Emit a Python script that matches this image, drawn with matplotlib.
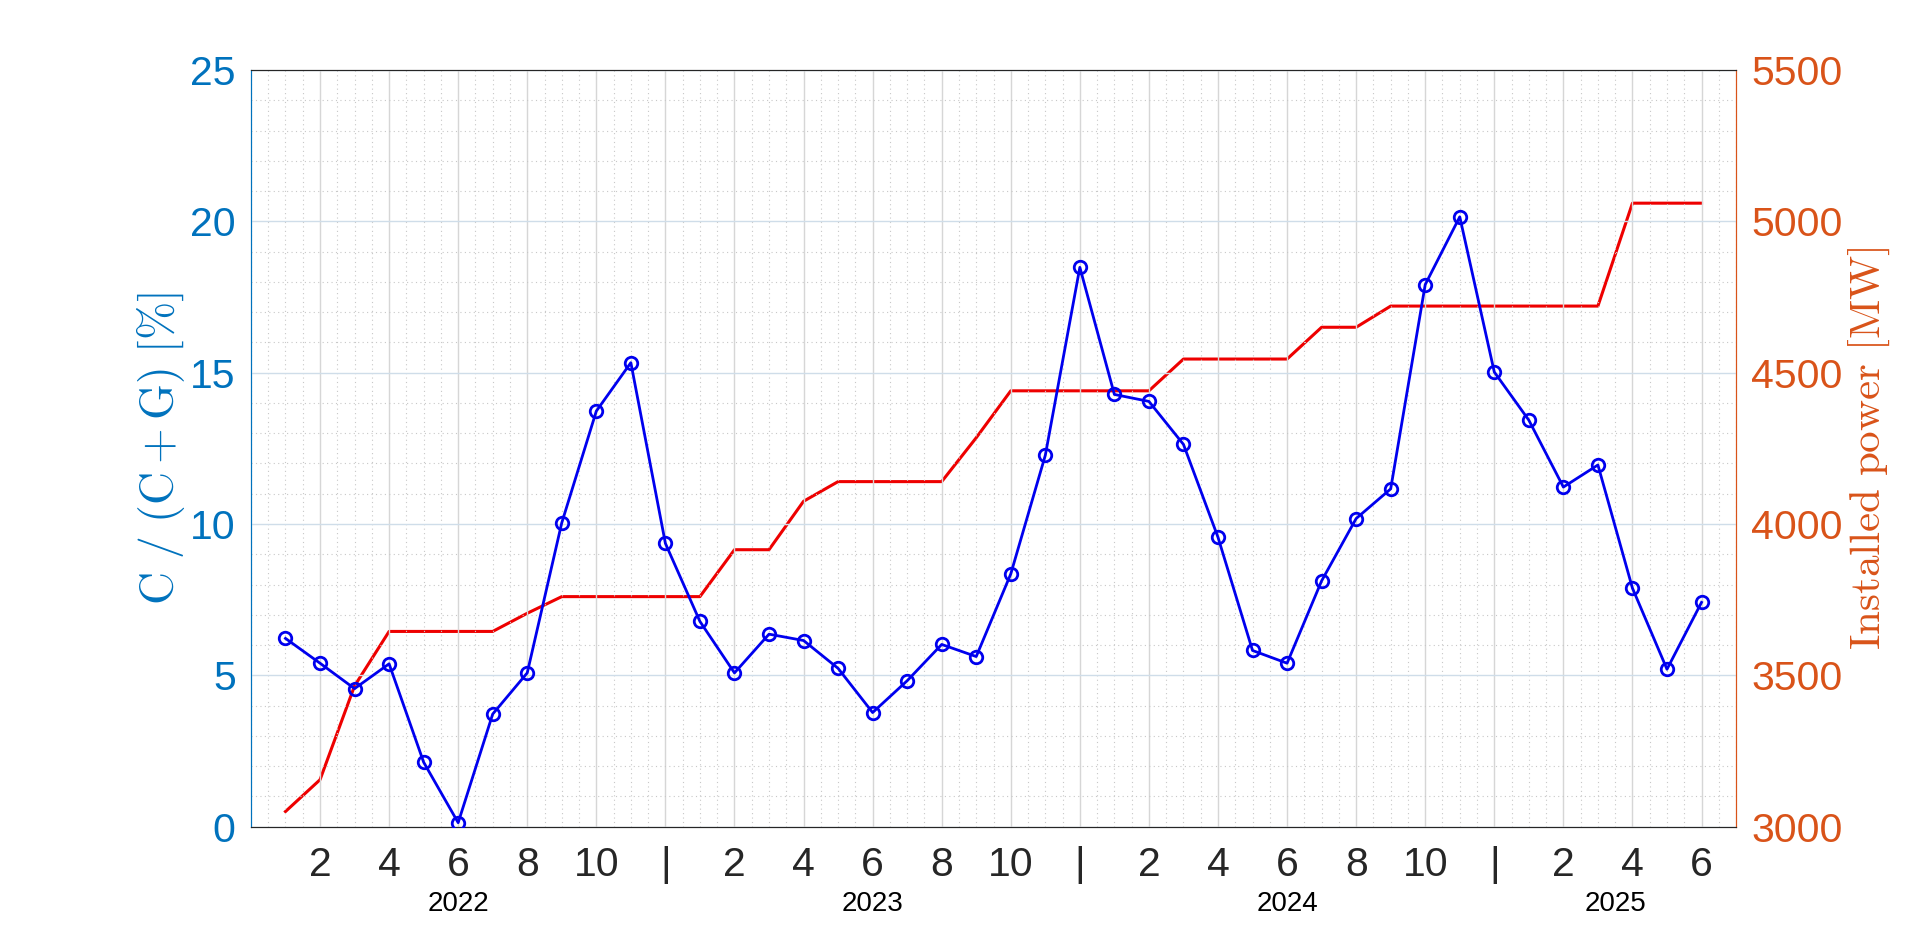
import matplotlib
matplotlib.use("Agg")
import matplotlib.pyplot as plt
import matplotlib.transforms as mtransforms
from matplotlib.ticker import MultipleLocator, FixedLocator

plt.rcParams['font.family'] = ['Liberation Sans', 'DejaVu Sans']
plt.rcParams['mathtext.fontset'] = 'cm'

# ---- data ----
months = list(range(1, 43))  # Jan 2022 .. Jun 2025
share = [6.22, 5.40, 4.56, 5.38, 2.13, 0.13, 3.72, 5.08, 10.04, 13.73, 15.33, 9.36,
         6.78, 5.08, 6.36, 6.15, 5.23, 3.77, 4.82, 6.02, 5.62, 8.35, 12.27, 18.48,
         14.28, 14.05, 12.63, 9.56, 5.82, 5.40, 8.12, 10.18, 11.16, 17.91, 20.15, 15.02,
         13.43, 11.22, 11.95, 7.88, 5.20, 7.41]
power = [3050, 3155, 3465, 3645, 3645, 3645, 3645, 3705, 3760, 3760, 3760, 3760,
         3760, 3915, 3915, 4075, 4140, 4140, 4140, 4140, 4285, 4440, 4440, 4440,
         4440, 4440, 4545, 4545, 4545, 4545, 4650, 4650, 4720, 4720, 4720, 4720,
         4720, 4720, 4720, 5060, 5060, 5060]
tick_pos = list(range(2, 43, 2))
tick_labels = ['2', '4', '6', '8', '10', '|'] * 3 + ['2', '4', '6']
years = ['2022', '2023', '2024', '2025']
year_pos = [6, 18, 30, 39.5]

BLUE_AX = '#0072BD'
ORANGE_AX = '#D95319'

fig = plt.figure(figsize=(19.2, 9.26), dpi=100)
ax = fig.add_axes([0.1307, 0.1073, 0.7735, 0.8171])
ax2 = ax.twinx()

ax.set_xlim(0, 43)
ax.set_ylim(0, 25)
ax2.set_ylim(3000, 5500)

# grid
ax.xaxis.set_major_locator(FixedLocator(tick_pos))
ax.xaxis.set_minor_locator(MultipleLocator(0.5))
ax.yaxis.set_major_locator(MultipleLocator(5))
ax.yaxis.set_minor_locator(MultipleLocator(1))
ax2.yaxis.set_major_locator(MultipleLocator(500))
ax.grid(True, which='major', axis='x', color='#d6d6d6', lw=1.0)
ax.grid(True, which='major', axis='y', color='#cfdde9', lw=1.0)
ax.grid(True, which='minor', color='#c8c8c8', lw=0.8, linestyle=(0, (1, 3)))
ax.set_axisbelow(True)

ax.set_xticks(tick_pos)
ax.set_xticklabels(tick_labels)
ax.tick_params(axis='x', which='both', length=0, labelsize=29.5, colors='#262626', pad=14)
ax.tick_params(axis='y', which='both', length=0, labelsize=29.5, colors=BLUE_AX, pad=11)
ax2.tick_params(axis='y', which='both', length=0, labelsize=29.5, colors=ORANGE_AX, pad=11)

for a in (ax, ax2):
    a.spines['top'].set_color('#262626')
    a.spines['bottom'].set_color('#262626')
    a.spines['left'].set_color(BLUE_AX)
    a.spines['right'].set_color(ORANGE_AX)

ax.plot(months, share, color='#0000EE', lw=2.0, marker='o', markersize=9,
        markerfacecolor='none', markeredgewidth=2.0, zorder=3)
ax2.plot(months, power, color='#EE0000', lw=2.2, zorder=3)
ax.set_zorder(ax2.get_zorder() + 1)
ax.patch.set_visible(False)

ax.set_ylabel(r'$\mathrm{C\ /\ (C + G)\ [\%]}$', fontsize=33, color=BLUE_AX, labelpad=2)
ax2.set_ylabel(r'$\mathrm{Installed\ power\ [MW]}$', fontsize=31, color=ORANGE_AX, labelpad=3)

trans = mtransforms.blended_transform_factory(ax.transData, ax.transAxes)
for yr, xp in zip(years, year_pos):
    ax.text(xp, -0.085, yr, transform=trans, ha='center', va='top', fontsize=20, color='black')

fig.savefig('out.png', dpi=100)
